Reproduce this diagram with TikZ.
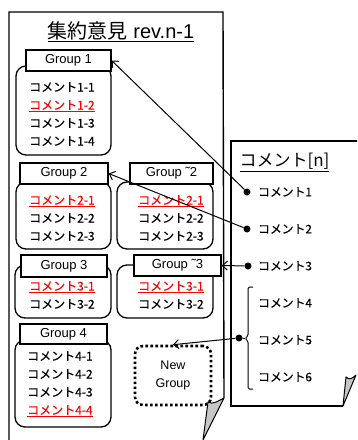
\documentclass[tikz,border=0pt]{standalone}
\usepackage{fontspec}
\setmainfont{Liberation Sans}
\newfontfamily\jp[FakeBold=0.3]{Noto Sans CJK JP}
\newfontfamily\jpt{Noto Sans CJK JP}
\usetikzlibrary{arrows.meta}
\begin{document}
\begin{tikzpicture}[x=1pt,y=-1pt,
  paper/.style={draw=black,line width=1.4pt,fill=white},
  curlfold/.style={draw=black,line width=1pt,fill=black!22,line join=round},
  grp/.style={draw=black,line width=1.3pt,rounded corners=10pt,inner sep=0pt},
  hdr/.style={draw=black,line width=1.3pt,fill=white,inner sep=0pt,font=\fontsize{13}{15}\selectfont},
  cmt/.style={anchor=base west,inner sep=0pt,font=\jp\fontsize{12}{14}\selectfont},
  cmtred/.style={cmt,text=red},
  rcmt/.style={anchor=base west,inner sep=0pt,font=\jp\fontsize{11.8}{14}\selectfont},
  bdot/.style={circle,fill=black,inner sep=0pt,minimum size=7pt},
  conn/.style={line width=1pt,-{Straight Barb[length=5pt,width=9pt]}},
]
\useasboundingbox (0,0) rectangle (357,440);
\clip (0,0) rectangle (357,440);

% left paper
\draw[paper] (9,460) -- (9,12) -- (223,12) -- (224,398);
\draw[curlfold] (208,402) .. controls (213,405) and (218,401) .. (224,398) -- (203,440) -- cycle;

% right paper
\draw[paper] (370,141) -- (231,141) -- (231,406) -- (343,406);
\draw[curlfold] (343,406) -- (346,377) .. controls (349,380) and (352,379) .. (356,375) -- cycle;

% titles
\node[anchor=base,inner sep=0pt,font=\fontsize{20}{24}\selectfont] (title) at (121,38.5) {\underline{{\jpt 集約意見} rev.n-1}};
\node[anchor=base,inner sep=0pt,font=\jpt\fontsize{17}{20}\selectfont] (rtitle) at (284.5,166.5) {\underline{コメント[n]}};

% Group 1
\node[grp,minimum width=95pt,minimum height=89pt] (g1b) at (63.5,110.5) {};
\node[hdr,minimum width=85pt,minimum height=21pt] (g1h) at (68.5,60.5) {Group 1};
\node[cmt] (c11) at (29,91.5) {コメント1-1};
\node[cmtred] (c12) at (29,109.5) {\underline{コメント1-2}};
\node[cmt] (c13) at (29,127.5) {コメント1-3};
\node[cmt] (c14) at (29,145.5) {コメント1-4};

% Group 2
\node[grp,minimum width=95pt,minimum height=67pt] (g2b) at (63.5,215.5) {};
\node[hdr,minimum width=88pt,minimum height=21pt] (g2h) at (64,173.5) {Group 2};
\node[cmtred] (c21) at (29,204.5) {\underline{コメント2-1}};
\node[cmt] (c22) at (29,222.5) {コメント2-2};
\node[cmt] (c23) at (29,240.5) {コメント2-3};

% Group ~2
\node[grp,minimum width=96pt,minimum height=67pt] (g2bb) at (165,215.5) {};
\node[hdr,minimum width=83pt,minimum height=21pt] (g2bh) at (171.5,173.5) {Group ˜2};
\node[cmtred] (c21b) at (138,204.5) {\underline{コメント2-1}};
\node[cmt] (c22b) at (138,222.5) {コメント2-2};
\node[cmt] (c23b) at (138,240.5) {コメント2-3};

% Group 3
\node[grp,minimum width=96pt,minimum height=53pt] (g3b) at (63,291.5) {};
\node[hdr,minimum width=86pt,minimum height=22pt] (g3h) at (64,266) {Group 3};
\node[cmtred] (c31) at (29,290.5) {\underline{コメント3-1}};
\node[cmt] (c32) at (29,308.5) {コメント3-2};

% Group ~3
\node[grp,minimum width=96pt,minimum height=53pt] (g3bb) at (165,291.5) {};
\node[hdr,minimum width=87pt,minimum height=21pt] (g3bh) at (177.5,265.5) {Group ˜3};
\node[cmtred] (c31b) at (138,290.5) {\underline{コメント3-1}};
\node[cmt] (c32b) at (138,308.5) {コメント3-2};

% Group 4
\node[grp,minimum width=96pt,minimum height=87pt] (g4b) at (63,383.5) {};
\node[hdr,minimum width=87pt,minimum height=20pt] (g4h) at (63.5,334) {Group 4};
\node[cmt] (c41) at (27,360.5) {コメント4-1};
\node[cmt] (c42) at (27,378.5) {コメント4-2};
\node[cmt] (c43) at (27,396.5) {コメント4-3};
\node[cmtred] (c44) at (27,414.5) {\underline{コメント4-4}};

% New group
\node[draw=black,line width=2.6pt,dash pattern=on 2.6pt off 2.4pt,rounded corners=8pt,
      minimum width=76pt,minimum height=59pt,inner sep=0pt,align=center,
      font=\fontsize{12.5}{18}\selectfont] (ng) at (173,375.5) {New\\Group};

% right comments
\node[rcmt] (r1) at (258,196.3) {コメント1};
\node[rcmt] (r2) at (258,233.3) {コメント2};
\node[rcmt] (r3) at (258,270.3) {コメント3};
\node[rcmt] (r4) at (258,307.3) {コメント4};
\node[rcmt] (r5) at (258,344.3) {コメント5};
\node[rcmt] (r6) at (258,381.3) {コメント6};

\node[bdot] (d1) at (247,192) {};
\node[bdot] (d2) at (247,229) {};
\node[bdot] (d3) at (248,266) {};
\node[bdot] (d5) at (239,338) {};

% bracket
\draw[line width=1pt,rounded corners=1.5pt] (253,287) -- (248,287) -- (248,336) -- (245,338.5) coordinate (bk) -- (248,341) -- (248,389) -- (253,389);
\draw[line width=1pt] (d5) -- (bk);

% connectors
\draw[conn] (d1) -- (g1h.east);
\draw[conn] (d2) -- (g2h.east);
\draw[conn] (d3) -- (g3bh.east);
\draw[conn] (d5) -- (ng.north);
\end{tikzpicture}
\end{document}
